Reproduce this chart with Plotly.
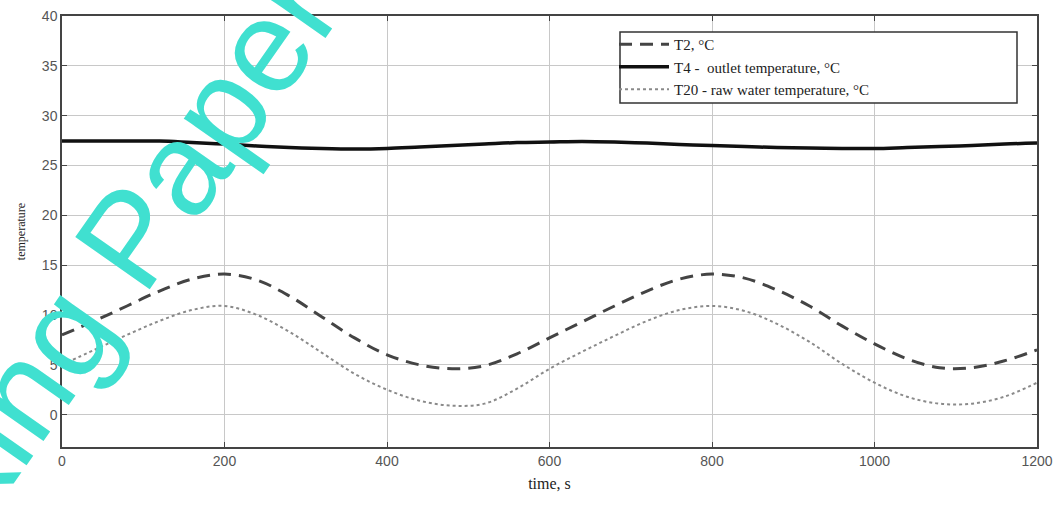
import plotly.graph_objects as go

# ---- data ----
time_s = [0, 40, 80, 120, 160, 200, 240, 280, 320, 360, 400, 440, 480, 520, 560, 600,
          640, 680, 720, 760, 800, 840, 880, 920, 960, 1000, 1040, 1080, 1120, 1160, 1200]

t2 = [8.0, 9.4, 10.9, 12.4, 13.6, 14.1, 13.5, 11.9, 9.8, 7.7, 6.0, 5.0, 4.6, 4.9, 6.1, 7.7,
      9.3, 10.9, 12.4, 13.6, 14.1, 13.7, 12.5, 10.9, 8.9, 7.1, 5.6, 4.7, 4.7, 5.4, 6.5]

t4 = [27.45, 27.45, 27.45, 27.45, 27.3, 27.15, 26.95, 26.8, 26.7, 26.65, 26.7, 26.85, 27.0,
      27.15, 27.3, 27.35, 27.4, 27.35, 27.25, 27.1, 27.0, 26.9, 26.8, 26.75, 26.7, 26.7,
      26.8, 26.9, 27.0, 27.15, 27.25]

t20 = [5.0, 6.5, 8.0, 9.4, 10.5, 10.9, 10.0, 8.3, 6.2, 4.1, 2.5, 1.4, 0.9, 1.1, 2.6, 4.6,
       6.3, 7.9, 9.4, 10.5, 10.9, 10.4, 9.1, 7.3, 5.1, 3.2, 1.8, 1.1, 1.1, 1.8, 3.2]

series_names = ["T2, °C", "T4 -  outlet temperature, °C", "T20 - raw water temperature, °C"]
x_ticks = [0, 200, 400, 600, 800, 1000, 1200]
y_ticks = [0, 5, 10, 15, 20, 25, 30, 35, 40]

fig = go.Figure()
fig.add_trace(go.Scatter(x=time_s, y=t2, mode="lines", name=series_names[0],
                         line=dict(color="#444444", width=3, dash="13px,8px", shape="spline")))
fig.add_trace(go.Scatter(x=time_s, y=t4, mode="lines", name=series_names[1],
                         line=dict(color="#111111", width=3.5, shape="spline")))
fig.add_trace(go.Scatter(x=time_s, y=t20, mode="lines", name=series_names[2],
                         line=dict(color="#8a8a8a", width=2, dash="dot", shape="spline")))

axis_common = dict(
    automargin=False,
    showgrid=True, gridcolor="#c8c8c8", gridwidth=1,
    showline=True, linecolor="#444444", linewidth=1.5, mirror="ticks",
    ticks="inside", ticklen=5, tickcolor="#444444",
    zeroline=False,
    tickfont=dict(family="Liberation Sans Narrow, Arial Narrow, Arial", size=14, color="#555555"),
)

fig.update_xaxes(range=[0, 1200], tickvals=x_ticks,
                 title=dict(text="time, s", font=dict(family="Liberation Serif, Times New Roman", size=16, color="#222222"),
                            standoff=10),
                 **axis_common)
fig.update_yaxes(range=[-3.25, 40], tickvals=y_ticks,
                 title=dict(text="temperature", font=dict(family="Liberation Serif, Times New Roman", size=12, color="#222222"),
                            standoff=14),
                 **axis_common)

# legend box drawn as a shape (reference box is wider than its text)
fig.add_shape(type="rect", xref="paper", yref="paper",
              x0=(620 - 62) / 975, x1=(1017 - 62) / 975,
              y0=1 - (103 - 16) / 431, y1=1 - (32 - 16) / 431,
              line=dict(color="#333333", width=1.5), fillcolor="white", layer="above")

fig.update_layout(
    width=1059, height=505,
    margin=dict(l=62, r=22, t=16, b=58),
    plot_bgcolor="white", paper_bgcolor="white",
    showlegend=True,
    legend=dict(x=(614 - 62) / 975, y=1 - (28 - 16) / 431, xanchor="left", yanchor="top",
                bgcolor="rgba(0,0,0,0)", borderwidth=0, itemwidth=50,
                font=dict(family="Liberation Serif, Times New Roman", size=15, color="#222222"),
                tracegroupgap=0),
)

# watermark
fig.add_annotation(text="Working Paper", xref="paper", yref="paper",
                   x=(58 - 62) / 975, y=1 - (340 - 16) / 431,
                   xanchor="center", yanchor="middle",
                   showarrow=False, textangle=-55,
                   font=dict(family="Liberation Sans, Arial", size=132, color="#40E0D0"))

fig.write_html(
    "out.html",
    config={"displayModeBar": False},
    post_script=("document.documentElement.style.overflow='hidden';"
                 "document.body.style.margin='0';document.body.style.overflow='hidden';"),
)
